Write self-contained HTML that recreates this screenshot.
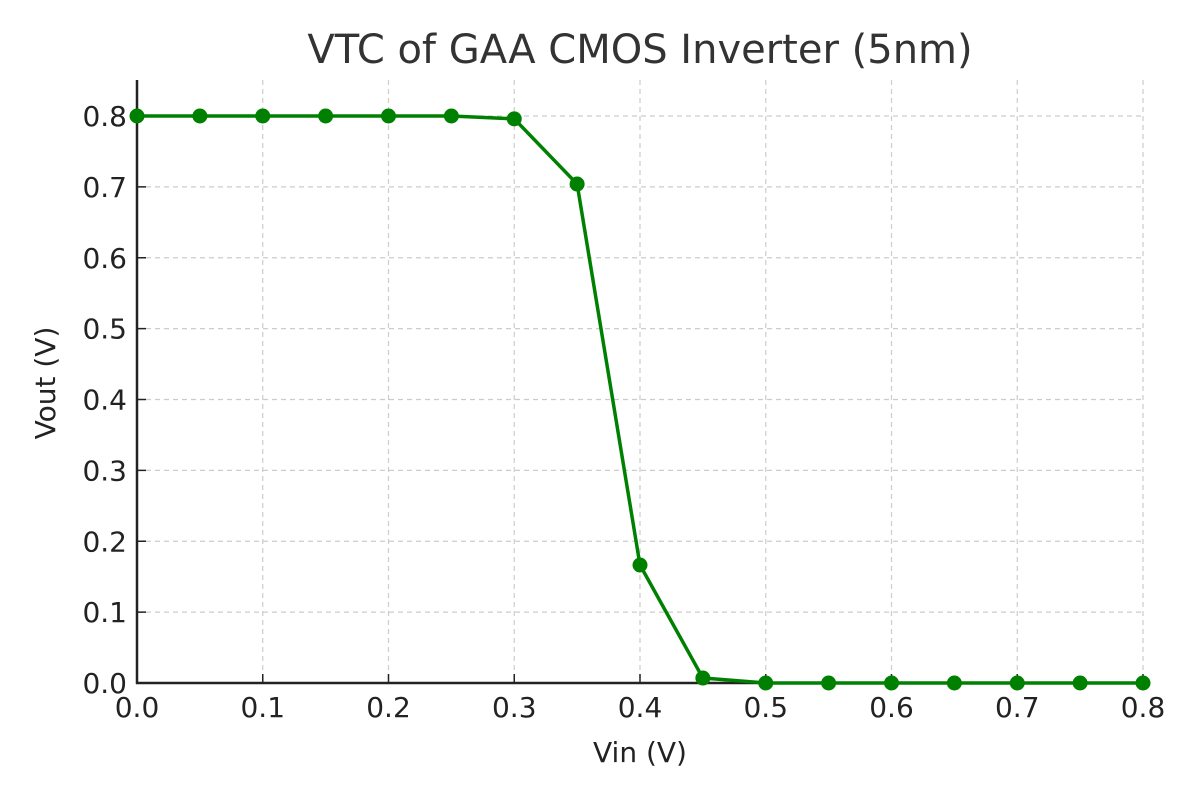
<!DOCTYPE html>
<html><head><meta charset="utf-8"><style>
body{margin:0;background:#fff;font-family:"Liberation Sans","DejaVu Sans",sans-serif}
svg text{font-family:"DejaVu Sans","Liberation Sans",sans-serif;fill:#222}
</style></head><body>
<svg id="chart" width="1200" height="800" xmlns="http://www.w3.org/2000/svg">
<text x="640" y="63" font-size="40" text-anchor="middle" style="fill:#333">VTC of GAA CMOS Inverter (5nm)</text>
<g id="grid"></g>
<g id="axes"></g>
<g id="series"></g>
<text x="640" y="762" font-size="28" text-anchor="middle">Vin (V)</text>
<text x="0" y="0" font-size="28" text-anchor="middle" transform="translate(55,383) rotate(-90)">Vout (V)</text>
</svg>
<script>
const vin=[0,0.05,0.1,0.15,0.2,0.25,0.3,0.35,0.4,0.45,0.5,0.55,0.6,0.65,0.7,0.75,0.8];
const vout=[0.8,0.8,0.8,0.8,0.8,0.8,0.796,0.704,0.1665,0.007,0,0,0,0,0,0,0];
const xTicks=["0.0","0.1","0.2","0.3","0.4","0.5","0.6","0.7","0.8"];
const yTicks=["0.0","0.1","0.2","0.3","0.4","0.5","0.6","0.7","0.8"];
const L=137,R=1143,B=683,T=80;
const xs=v=>L+(v/0.8)*(R-L);
const ys=v=>B-(v/0.8)*(683-116);
const NS="http://www.w3.org/2000/svg";
function mk(tag,attrs,parent){const e=document.createElementNS(NS,tag);for(const k in attrs)e.setAttribute(k,attrs[k]);parent.appendChild(e);return e;}
const grid=document.getElementById('grid'),axes=document.getElementById('axes'),ser=document.getElementById('series');
xTicks.forEach(t=>{const x=xs(+t);
 const g=mk('line',{x1:x,x2:x,y1:T,y2:B,stroke:'#ccc','stroke-width':1.2,'stroke-dasharray':'5,4'},grid);
 
 
 const tk=mk('line',{x1:x,x2:x,y1:B,y2:B-9,stroke:'#222','stroke-width':1.5},axes);
 
 
 const lb=mk('text',{x:x,y:B+34,'font-size':28,'text-anchor':'middle'},axes);lb.textContent=t;
 
 
});
yTicks.forEach(t=>{const y=ys(+t);
 const g=mk('line',{x1:L,x2:R,y1:y,y2:y,stroke:'#ccc','stroke-width':1.2,'stroke-dasharray':'5,4'},grid);
 
 
 const tk=mk('line',{x1:L,x2:L+9,y1:y,y2:y,stroke:'#222','stroke-width':1.5},axes);
 
 
 const lb=mk('text',{x:L-10,y:y+10,'font-size':28,'text-anchor':'end'},axes);lb.textContent=t;
 
 
});
const sp1=mk('line',{x1:L,x2:L,y1:T,y2:B+1,stroke:'#222','stroke-width':2.5},axes);


const sp2=mk('line',{x1:L-1,x2:R,y1:B,y2:B,stroke:'#222','stroke-width':2.5},axes);


const pl=mk('polyline',{points:vin.map((v,i)=>xs(v)+','+ys(vout[i])).join(' '),fill:'none',stroke:'#008000','stroke-width':3.5,'stroke-linejoin':'round'},ser);


vin.forEach((v,i)=>{const c=mk('circle',{cx:xs(v),cy:ys(vout[i]),r:7.5,fill:'#008000'},ser);
 
 
});
</script>
</body></html>
